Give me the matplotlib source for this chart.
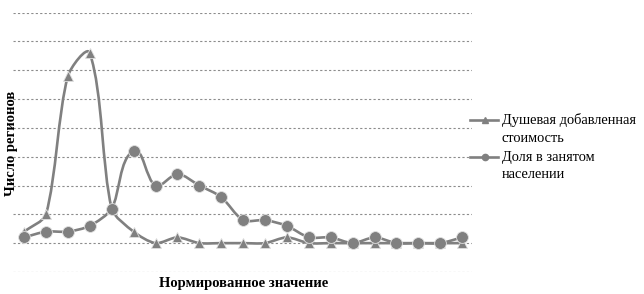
import numpy as np
import matplotlib

matplotlib.use("Agg")
import matplotlib.pyplot as plt  # noqa: E402
from matplotlib.path import Path  # noqa: E402
from matplotlib.patches import PathPatch  # noqa: E402
from matplotlib.lines import Line2D  # noqa: E402

# values (number of regions per bin)
bins = list(range(21))
value_added = [2, 5, 29, 33, 6, 2, 0, 1, 0, 0, 0, 0, 1, 0, 0, 0, 0, 0, 0, 0, 0]
employment = [1, 2, 2, 3, 6, 16, 10, 12, 10, 8, 4, 4, 3, 1, 1, 0, 1, 0, 0, 0, 1]
labels = ["Душевая добавленная\nстоимость", "Доля в занятом\nнаселении"]

GRAY = "#808080"
plt.rcParams["font.family"] = ["Liberation Serif", "DejaVu Serif"]


def smooth_path(ax, xs, ys, k=0.27):
    # Excel-like smoothed line, built in screen space: tangent along the
    # neighbour chord, control arm scaled by the segment length
    tr = ax.transData
    p = tr.transform(np.column_stack([xs, ys]).astype(float))
    n = len(p)
    tang = []
    for i in range(n):
        d = p[min(i + 1, n - 1)] - p[max(i - 1, 0)]
        tang.append(d / (np.hypot(*d) or 1.0))
    verts, codes = [p[0]], [Path.MOVETO]
    for i in range(n - 1):
        L = np.hypot(*(p[i + 1] - p[i]))
        verts += [p[i] + tang[i] * L * k, p[i + 1] - tang[i + 1] * L * k, p[i + 1]]
        codes += [Path.CURVE4] * 3
    return Path(tr.inverted().transform(np.array(verts)), codes)


fig = plt.figure(figsize=(6.44, 2.94), dpi=100)
ax = fig.add_axes([0.0197, 0.075, 0.7133, 0.882])
ax.set_xlim(-0.52, 20.45)
ax.set_ylim(-5, 40)

for ys, mk, ms in [(value_added, "^", 7), (employment, "o", 8.5)]:
    ax.add_patch(PathPatch(smooth_path(ax, bins, ys), fill=False,
                           edgecolor=GRAY, lw=1.9, zorder=3))
    ax.plot(bins, ys, ls="none", marker=mk, ms=ms, color=GRAY,
            mec="#e0e0e0", mew=0.6, zorder=4)

ax.set_yticks(np.arange(-5, 41, 5))
ax.set_xticks([])
ax.yaxis.grid(True, color="#8c8c8c", lw=0.8, ls=(0, (2, 2)))
ax.tick_params(left=False, labelleft=False)
for s in ax.spines.values():
    s.set_visible(False)

fig.text(0.378, 0.035, "Нормированное значение", ha="center", va="center",
         fontsize=10.5, fontweight="bold")
fig.text(0.018, 0.514, "Число регионов", ha="center", va="center",
         rotation=90, fontsize=10.5, fontweight="bold")

# legend drawn by hand so the line spacing matches
for mk, label, y_px in [("^", labels[0], 120), ("o", labels[1], 157)]:
    y = 1 - y_px / 294
    fig.add_artist(Line2D([470 / 644, 498 / 644], [y, y], color=GRAY, lw=1.9,
                          transform=fig.transFigure))
    fig.add_artist(Line2D([485 / 644], [y], color=GRAY, marker=mk, ms=4.5,
                          ls="none", transform=fig.transFigure))
    fig.text(502 / 644, y - 9 / 294, label, ha="left", va="center",
             fontsize=10.4, linespacing=1.45)

fig.savefig("out.png", dpi=100)
